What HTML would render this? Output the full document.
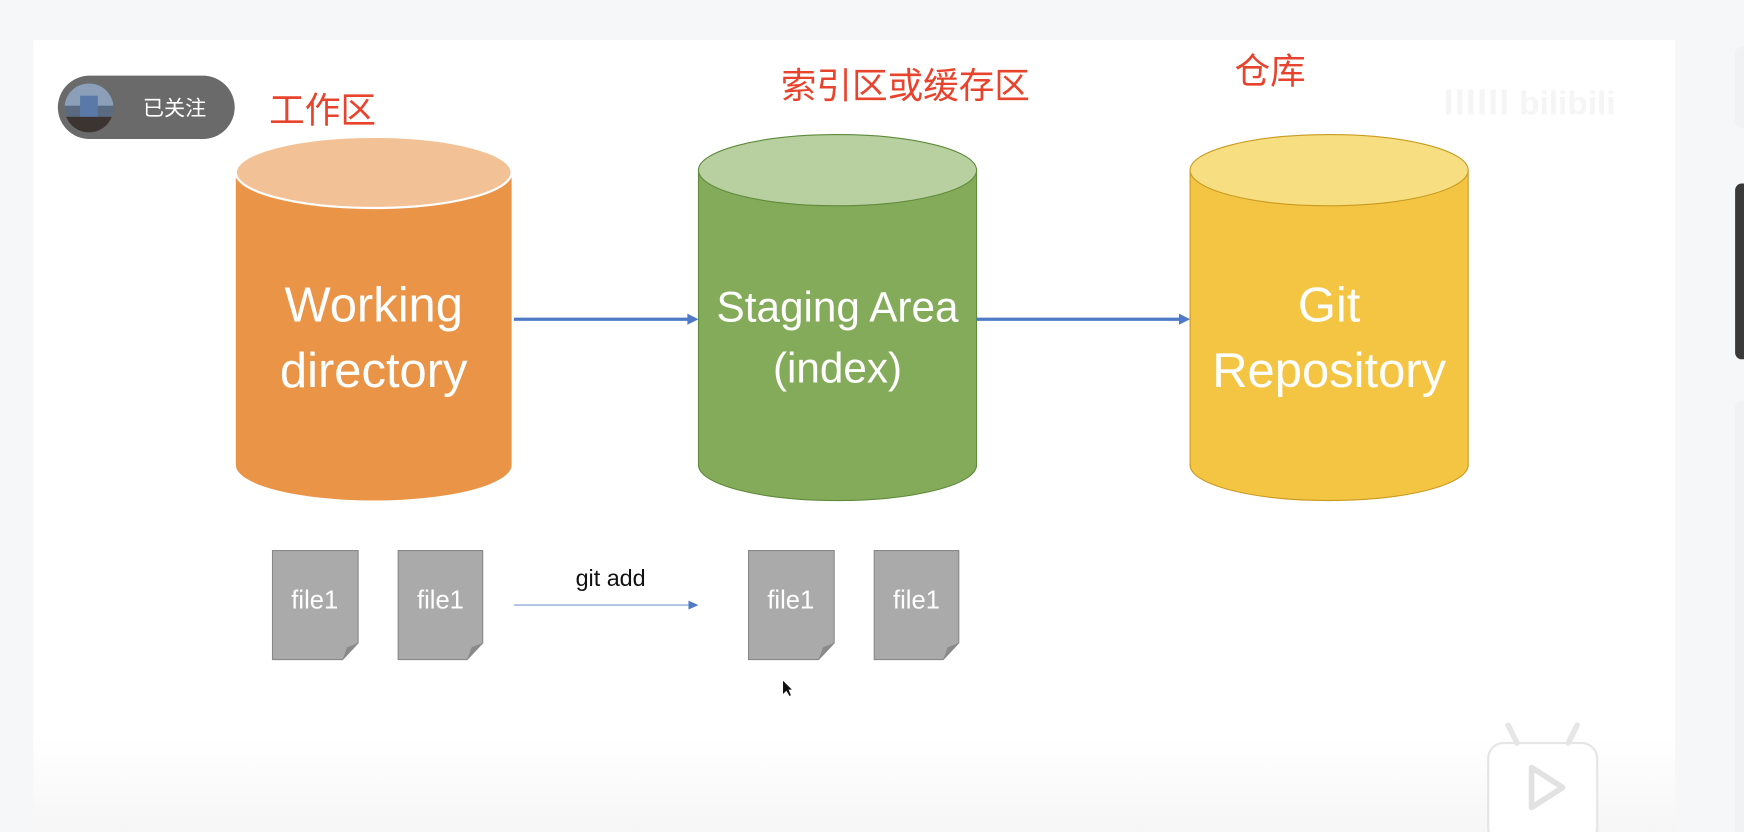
<!DOCTYPE html>
<html><head><meta charset="utf-8"><style>
html,body{margin:0;padding:0;background:#f6f7f8;overflow:hidden;}
svg{display:block}
</style></head><body>
<svg width="1744" height="832" viewBox="0 0 1568 748" xmlns="http://www.w3.org/2000/svg" font-family="'Liberation Sans','Noto Sans CJK SC',sans-serif">
<defs>
<linearGradient id="bg" x1="0" y1="0" x2="0" y2="1"><stop offset="0" stop-color="#ffffff"/><stop offset="0.88" stop-color="#ffffff"/><stop offset="1" stop-color="#f6f6f6"/></linearGradient>
<clipPath id="av"><circle cx="80" cy="97" r="22"/></clipPath>
</defs>
<rect x="0" y="0" width="1568" height="748" fill="#f6f7f8"/>
<rect x="30" y="36" width="1476" height="712" fill="url(#bg)"/>
<rect x="1560" y="42" width="20" height="73" rx="6" fill="#f1f2f3"/>
<rect x="1560" y="165" width="20" height="158" rx="6" fill="#3a3a3a"/>
<rect x="1560" y="360" width="20" height="400" rx="6" fill="#f1f2f3"/>
<rect x="52" y="68" width="159" height="57" rx="28.5" fill="#6a6a6a"/>
<circle cx="80" cy="97" r="22" fill="#5a6a80"/>
<g clip-path="url(#av)"><rect x="58" y="75" width="44" height="20" fill="#8ba0b8"/><rect x="72" y="86" width="16" height="22" fill="#5a79a8"/><rect x="58" y="105" width="44" height="14" fill="#3c3430"/></g>
<text x="157" y="104" font-size="19" fill="#fff" text-anchor="middle">已关注</text>
<text x="290" y="110" font-size="32" fill="#e8432d" text-anchor="middle">工作区</text>
<text x="814" y="88" font-size="32" fill="#e8432d" text-anchor="middle">索引区或缓存区</text>
<text x="1142" y="75" font-size="32" fill="#e8432d" text-anchor="middle">仓库</text>
<text x="1375" y="103" font-size="30" fill="#f5f5f5" text-anchor="middle" font-weight="bold">ⅢⅢ bilibili</text>
<path d="M212 155 L212 418 A124 32 0 0 0 460 418 L460 155 Z" fill="#e99447"/>
<ellipse cx="336" cy="155" rx="124" ry="32" fill="#f3c196" stroke="#fff" stroke-width="2"/>
<text x="336" y="289" font-size="44" fill="#fff" text-anchor="middle">Working</text>
<text x="336" y="348" font-size="44" fill="#fff" text-anchor="middle">directory</text>
<path d="M628 153 L628 418 A125 32 0 0 0 878 418 L878 153 Z" fill="#84ab5a" stroke="#5e8a3a" stroke-width="1"/>
<ellipse cx="753" cy="153" rx="125" ry="32" fill="#b8d0a0" stroke="#5e8a3a" stroke-width="1"/>
<text x="753" y="289" font-size="38" fill="#fff" text-anchor="middle">Staging Area</text>
<text x="753" y="344" font-size="38" fill="#fff" text-anchor="middle">(index)</text>
<path d="M1070 153 L1070 418 A125 32 0 0 0 1320 418 L1320 153 Z" fill="#f4c443" stroke="#c99a20" stroke-width="1"/>
<ellipse cx="1195" cy="153" rx="125" ry="32" fill="#f7de80" stroke="#c99a20" stroke-width="1"/>
<text x="1195" y="289" font-size="44" fill="#fff" text-anchor="middle">Git</text>
<text x="1195" y="348" font-size="44" fill="#fff" text-anchor="middle">Repository</text>
<line x1="462" y1="287" x2="620" y2="287" stroke="#4f7bc6" stroke-width="3"/>
<polygon points="628,287 618,282 618,292" fill="#4f7bc6"/>
<line x1="878" y1="287" x2="1062" y2="287" stroke="#4f7bc6" stroke-width="3"/>
<polygon points="1070,287 1060,282 1060,292" fill="#4f7bc6"/>
<g fill="#aaaaaa" stroke="#888" stroke-width="1">
<path d="M245 495 H322 V578 L308 593 H245 Z"/>
<path d="M358 495 H434 V578 L420 593 H358 Z"/>
<path d="M673 495 H750 V578 L736 593 H673 Z"/>
<path d="M786 495 H862 V578 L848 593 H786 Z"/>
</g>
<g fill="#8a8a8a"><path d="M322 578 L308 593 L312 582 Z"/><path d="M434 578 L420 593 L424 582 Z"/><path d="M750 578 L736 593 L740 582 Z"/><path d="M862 578 L848 593 L852 582 Z"/></g>
<g font-size="23" fill="#fff" text-anchor="middle">
<text x="283" y="547">file1</text><text x="396" y="547">file1</text><text x="711" y="547">file1</text><text x="824" y="547">file1</text>
</g>
<text x="549" y="527" font-size="21" fill="#111" text-anchor="middle">git add</text>
<line x1="462" y1="544" x2="620" y2="544" stroke="#7a9ad0" stroke-width="1"/>
<polygon points="628,544 619,540 619,548" fill="#4f7bc6"/>
<path d="M704 612 L704 624 L707 621 L710 626 L711 625 L709 620 L712 620 Z" fill="#111"/>
<rect x="1338" y="668" width="98" height="90" rx="14" fill="#fff" stroke="#e6e6e6" stroke-width="2"/>
<path d="M1364 668 L1356 652 M1410 668 L1418 652" stroke="#e6e6e6" stroke-width="5" stroke-linecap="round"/>
<path d="M1377 690 L1405 708 L1377 726 Z" fill="none" stroke="#e2e2e2" stroke-width="5" stroke-linejoin="round"/>
</svg>
</body></html>
